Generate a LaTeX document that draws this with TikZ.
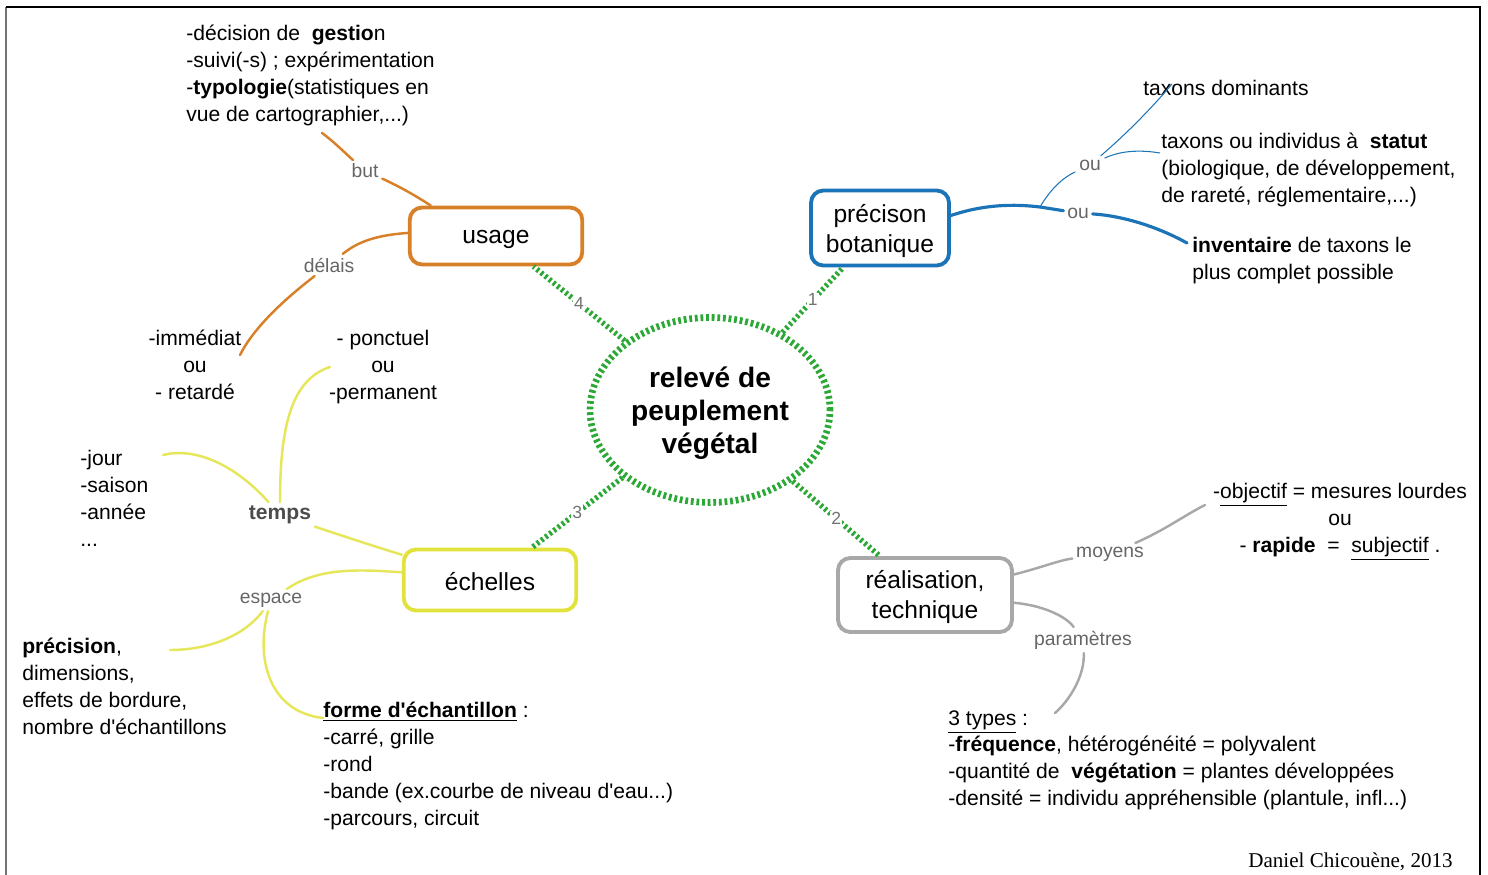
\documentclass[tikz,border=0pt]{standalone}
\usepackage{fontspec}
\setmainfont{Liberation Sans}
\newfontfamily\signature{Liberation Serif}
\usetikzlibrary{shapes.geometric}

\definecolor{vert}{RGB}{44,168,54}
\definecolor{orangeU}{RGB}{216,128,40}
\definecolor{bleuP}{RGB}{28,116,184}
\definecolor{jauneE}{RGB}{226,226,60}
\definecolor{jauneB}{RGB}{230,230,90}
\definecolor{grisR}{RGB}{168,168,168}

\newcommand\feuille{\fontsize{12}{15.3}\selectfont}
\newcommand\apos{\textquotesingle}

\begin{document}
\begin{tikzpicture}[x=0.02cm, y=-0.02cm,
  boite/.style={draw, rounded corners=7pt, line width=2.2pt, fill=white, align=center,
    inner sep=0pt, font=\fontsize{14}{17}\selectfont},
  lien/.style={draw=vert, line width=3.1pt, dash pattern=on 1.5pt off 1.5pt},
  num/.style={font=\fontsize{10}{12}\selectfont, text=black!55, fill=white, inner sep=0.6pt},
  etiq/.style={font=\fontsize{11}{13}\selectfont, text=black!60, inner sep=2pt},
  texte/.style={font=\feuille, align=left, anchor=north west, inner sep=0pt},
  branche/.style={line width=1.4pt, line cap=round}]

  \useasboundingbox (0,0) rectangle (1488,875);

  % Cadre
  \draw[black!55, line width=1.1pt] (6,7) -- (6,875);
  \draw[line width=0.7pt] (6,7) -- (1480,7) -- (1480,875);

  % Centre et branches principales
  \node[ellipse, draw=vert, line width=3.8pt, dash pattern=on 1.6pt off 1.6pt,
    minimum width=4.8cm, minimum height=3.7cm, inner sep=0pt, align=center,
    font=\bfseries\fontsize{16}{18.7}\selectfont] (centre) at (710,410)
    {\rule{0pt}{15pt}relevé de\\peuplement\\végétal};

  \node[boite, draw=orangeU, minimum width=3.45cm, minimum height=1.14cm] (usage) at (496,236) {\rule{0pt}{11.8pt}usage};
  \node[boite, draw=bleuP, minimum width=2.76cm, minimum height=1.5cm] (precision) at (880,228) {\rule{0pt}{14pt}précison\\botanique};
  \node[boite, draw=jauneE, minimum width=3.45cm, minimum height=1.22cm] (echelles) at (490,580) {\rule{0pt}{12.4pt}échelles};
  \node[boite, draw=grisR, minimum width=3.48cm, minimum height=1.48cm] (realisation) at (925,595) {\rule{0pt}{12.4pt}réalisation,\\technique};

  \draw[lien] (centre) -- node[num] {1} (precision);
  \draw[lien] (centre) -- node[num] {2} (realisation);
  \draw[lien] (centre) -- node[num] {3} (echelles);
  \draw[lien] (centre) -- node[num] {4} (usage);

  % Usage
  \node[texte] (objectifs) at (186,25) {-décision de\ \ \textbf{gestio}n\\-suivi(-s) ; expérimentation\\-\textbf{typologie}(statistiques en\\vue de cartographier,...)};
  \node[texte, align=center, anchor=north] (delai) at (195,330) {-immédiat\\ou\\- retardé};
  \node[etiq] (but) at (365,171) {but};
  \node[etiq] (delais) at (329,265) {délais};
  \coordinate (finBut) at (322,133);
  \coordinate (finDelai) at (240,355);
  \draw[branche, orangeU] (usage.155) .. controls (410,192) and (392,183) .. (but);
  \draw[branche, orangeU] (but) .. controls (343,151) and (333,141) .. (finBut);
  \draw[branche, orangeU] (usage.178) .. controls (380,235) and (360,240) .. (delais);
  \draw[branche, orangeU] (delais) .. controls (290,295) and (255,325) .. (finDelai);

  % Precision botanique
  \node[texte] (dominants) at (1143,80) {taxons dominants};
  \node[texte] (statut) at (1161,133) {taxons ou individus à\ \ \textbf{statut}\\(biologique, de développement,\\de rareté, réglementaire,...)};
  \node[texte] (inventaire) at (1192,237) {\textbf{inventaire} de taxons le\\plus complet possible};
  \node[etiq] (ou1) at (1090,165) {ou};
  \node[etiq] (ou2) at (1078,213) {ou};
  \coordinate (noeud) at (1040,207);
  \coordinate (finDom) at (1172,84);
  \coordinate (finStatut) at (1160,153);
  \coordinate (finInv) at (1187,243);
  \draw[branche, bleuP, line width=1.8pt] (precision.10) .. controls (985,204) and (1015,204) .. (noeud) -- (ou2);
  \draw[branche, bleuP, line width=1.8pt] (ou2) .. controls (1125,216) and (1160,228) .. (finInv);
  \draw[bleuP, line width=0.6pt] (noeud) .. controls (1050,190) and (1062,178) .. (ou1);
  \draw[bleuP, line width=0.6pt] (ou1) .. controls (1122,150) and (1142,150) .. (finStatut);
  \draw[bleuP, line width=0.6pt] (ou1) .. controls (1125,135) and (1150,110) .. (finDom);

  % Echelles
  \node[texte, align=center, anchor=north] (duree) at (383,330) {- ponctuel\\ou\\-permanent};
  \node[texte] (periode) at (80,450) {-jour\\-saison\\-année\\...};
  \node[texte] (taille) at (22,638) {\textbf{précision},\\dimensions,\\effets de bordure,\\nombre d\apos échantillons};
  \node[texte] (forme) at (323,702) {\underline{\textbf{forme d\apos échantillon}} :\\-carré, grille\\-rond\\-bande (ex.courbe de niveau d\apos eau...)\\-parcours, circuit};
  \node[etiq, font=\bfseries\fontsize{12}{14}\selectfont, text=black!70] (temps) at (280,515) {temps};
  \node[etiq] (espace) at (271,600) {espace};
  \coordinate (finJour) at (163,455);
  \coordinate (finPonct) at (330,367);
  \coordinate (finTaille) at (170,650);
  \coordinate (finForme) at (323,718);
  \draw[branche, jauneB] (echelles.164) .. controls (370,545) and (340,535) .. (temps);
  \draw[branche, jauneB] (temps) .. controls (240,470) and (200,446) .. (finJour);
  \draw[branche, jauneB] (temps) .. controls (280,430) and (290,380) .. (finPonct);
  \draw[branche, jauneB] (echelles.175) .. controls (365,570) and (320,566) .. (espace);
  \draw[branche, jauneB] (espace) .. controls (245,635) and (210,650) .. (finTaille);
  \draw[branche, jauneB] (espace) .. controls (255,660) and (270,712) .. (finForme);

  % Realisation
  \node[texte, align=center, anchor=north] (moyensTxt) at (1340,483) {-\underline{objectif} = mesures lourdes\\ou\\- \textbf{rapide}\ \ =\ \ \underline{subjectif} .};
  \node[texte] (types) at (948,710) {\underline{3 types} :\\-\textbf{fréquence}, hétérogénéité = polyvalent\\-quantité de\ \ \textbf{végétation} = plantes développées\\-densité = individu appréhensible (plantule, infl...)};
  \node[etiq] (moyens) at (1110,554) {moyens};
  \node[etiq] (parametres) at (1083,640) {paramètres};
  \coordinate (finMoyens) at (1205,505);
  \coordinate (finTypes) at (1055,713);
  \draw[branche, grisR] (realisation.13) .. controls (1040,568) and (1060,560) .. (moyens);
  \draw[branche, grisR] (moyens) .. controls (1165,530) and (1185,515) .. (finMoyens);
  \draw[branche, grisR] (realisation.-5) .. controls (1040,605) and (1065,615) .. (parametres);
  \draw[branche, grisR] (parametres) .. controls (1085,675) and (1070,700) .. (finTypes);

  \node[anchor=east, inner sep=0pt, font=\signature\fontsize{12}{14}\selectfont] (auteur) at (1453,862) {Daniel Chicouène, 2013};
\end{tikzpicture}
\end{document}
